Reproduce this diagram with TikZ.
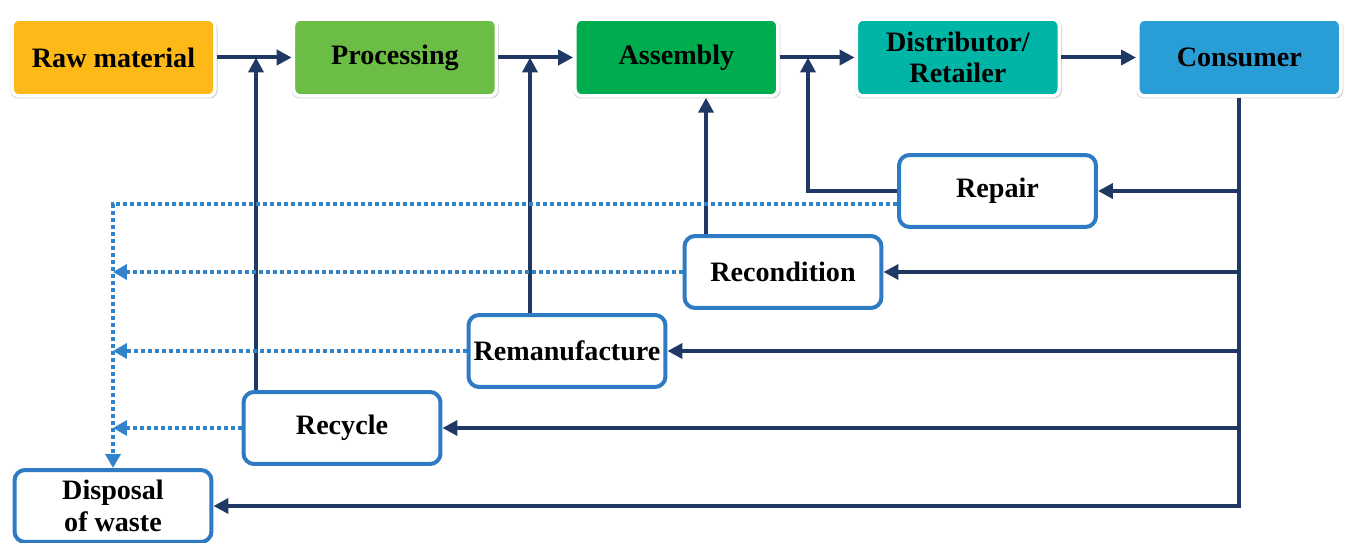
\documentclass[tikz,border=0pt]{standalone}
\usepackage{fontspec}
\setmainfont{Liberation Serif}
\usetikzlibrary{shapes,arrows.meta,positioning,calc,shadows}
\definecolor{navy}{HTML}{1F3864}
\definecolor{boxblue}{HTML}{2E7BC4}
\definecolor{dotblue}{HTML}{3183CA}
\definecolor{rawcol}{HTML}{FDB918}
\definecolor{proccol}{HTML}{6CBD45}
\definecolor{asmcol}{HTML}{00AD4E}
\definecolor{distcol}{HTML}{00B5A5}
\definecolor{conscol}{HTML}{299ED6}

\tikzset{
  stage/.style={rectangle, rounded corners=4pt, draw=white, line width=0.07cm,
    minimum width=4.06cm, minimum height=1.54cm, inner sep=2pt, align=center,
    font=\fontsize{16}{18}\selectfont\bfseries,
    drop shadow={opacity=0.35, shadow scale=1.02, shadow xshift=0.01cm, shadow yshift=-0.03cm}},
  recov/.style={rectangle, rounded corners=6pt, draw=boxblue, fill=white, line width=0.08cm,
    minimum width=3.94cm, minimum height=1.44cm, inner sep=2pt, align=center,
    font=\fontsize{16}{18}\selectfont\bfseries},
  flow/.style={draw=navy, line width=0.08cm, -{Triangle[length=0.3cm,width=0.3cm]}},
  feed/.style={draw=navy, line width=0.08cm},
  waste/.style={draw=dotblue, line width=0.08cm, dash pattern=on 0.08cm off 0.06cm,
    -{Triangle[length=0.28cm,width=0.3cm]}}
}

\begin{document}
\begin{tikzpicture}[x=0.02cm, y=-0.02cm, node distance=1.5cm]
    \useasboundingbox (0,0) rectangle (1346,543);

    \node[stage, fill=rawcol] (raw) at (113.5,57.5) {Raw material};
    \node[stage, fill=proccol, right=of raw] (proc) {Processing};
    \node[stage, fill=asmcol, right=of proc] (asm) {Assembly};
    \node[stage, fill=distcol, right=of asm] (dist) {Distributor/\\Retailer};
    \node[stage, fill=conscol, right=of dist] (cons) {Consumer};

    \node[recov] (repair) at (997.5,191) {Repair};
    \node[recov] (recond) at (783,272) {Recondition};
    \node[recov] (reman) at (567,351) {Remanufacture};
    \node[recov] (recycle) at (342,428) {Recycle};
    \node[recov] (disp) at (113,506) {Disposal\\of waste};

    \draw[flow] (raw) -- (proc);
    \draw[flow] (proc) -- (asm);
    \draw[flow] (asm) -- (dist);
    \draw[flow] (dist) -- (cons);

    \coordinate (m1) at (256,57.5);
    \coordinate (m2) at (530,57.5);
    \coordinate (m3) at (808,57.5);
    \coordinate (a1) at (706,0);
    \draw[flow] (recycle.north -| m1) -- (m1);
    \draw[flow] (reman.north -| m2) -- (m2);
    \draw[flow] (recond.north -| a1) -- (asm.south -| a1);
    \draw[flow] (repair.west) -| (m3);

    \draw[flow] (cons.south) |- (disp.east);
    \foreach \n in {repair,recond,reman,recycle}
        \draw[flow] (cons.south |- \n.east) -- (\n.east);

    \draw[waste] ([yshift=-0.26cm]repair.west) -| (disp.north);
    \foreach \n in {recond,reman,recycle}
        \draw[waste] (\n.west) -- (\n.west -| disp.north);
\end{tikzpicture}
\end{document}
